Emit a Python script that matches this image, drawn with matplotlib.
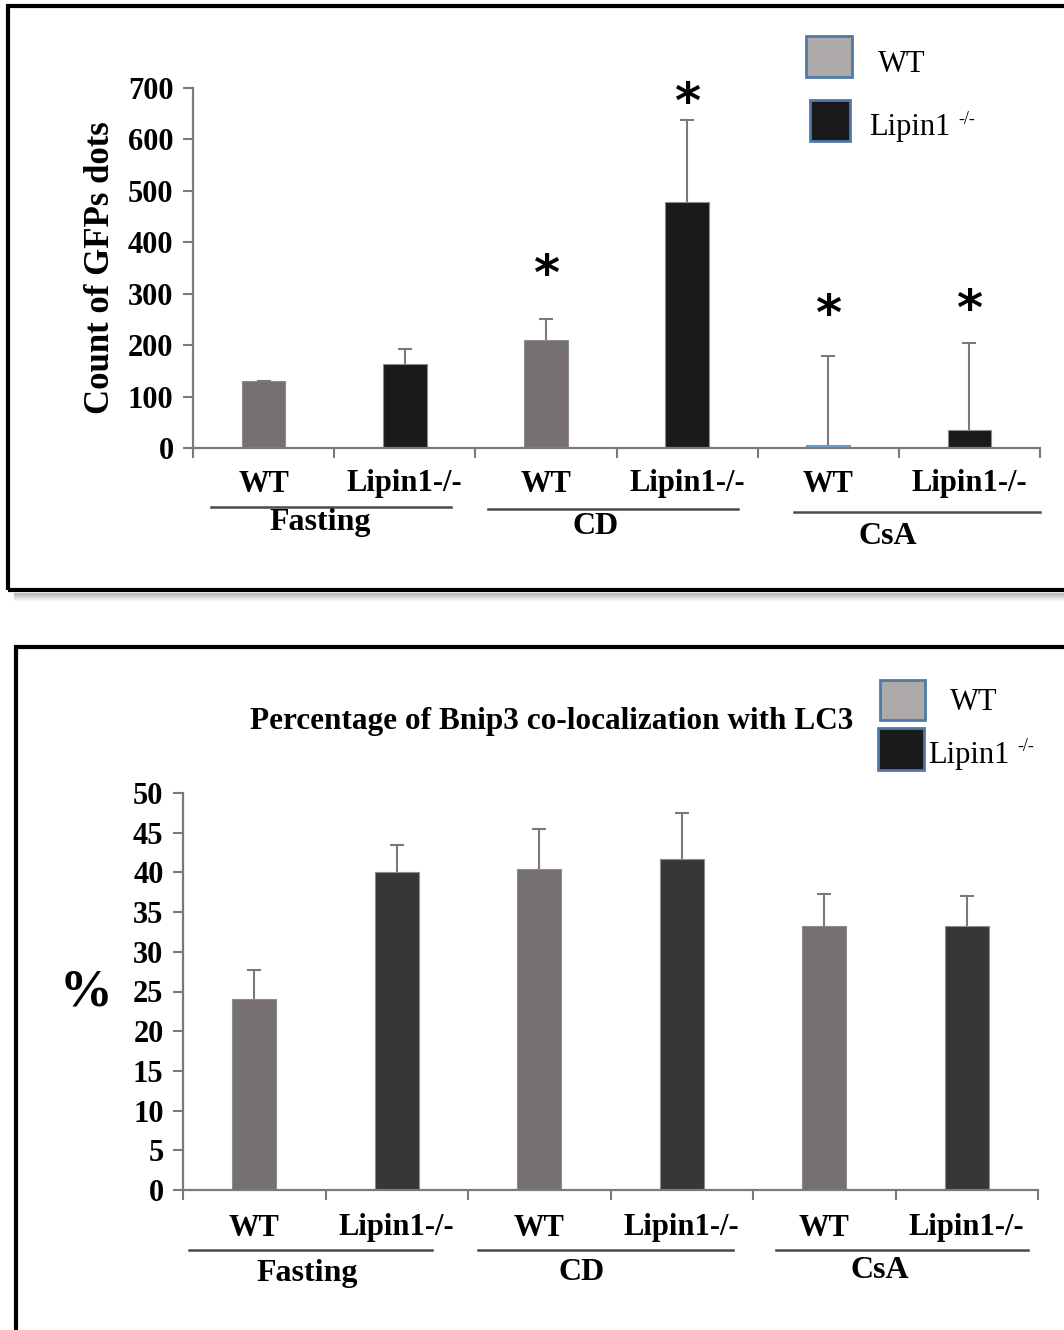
import matplotlib.pyplot as plt
import numpy as np
from matplotlib.patches import Rectangle
from matplotlib.lines import Line2D
from matplotlib.transforms import blended_transform_factory

# data
groups = ["Fasting", "CD", "CsA"]
genotypes = ["WT", "Lipin1-/-"] * 3

gfp_mean = [130, 163, 210, 478, 5, 35]
gfp_err = [0, 29, 40, 160, 173, 170]
gfp_star = [None, None, 335, 668, 257, 267]

bnip_mean = [24.0, 40.0, 40.4, 41.7, 33.3, 33.3]
bnip_err = [3.7, 3.4, 5.1, 5.8, 4.0, 3.7]

W, H = 1064, 1330
def fx(x):
    return x / W
def fy(y):
    return 1 - y / H

SERIF = "Liberation Serif"
AX_COL = "#7a7a7a"

fig = plt.figure(figsize=(W / 100, H / 100), dpi=100)


def panel(rect, means, errs, colors, ymax, ystep, tick_fs, lab_y, line_spans, line_y, grp_x, grp_y):
    ax = fig.add_axes(rect)
    x = np.arange(len(means)) + 0.5
    ax.bar(x, means, width=0.31, color=colors, edgecolor="#8c8c8c", linewidth=0.8, zorder=2)
    _, caps, _ = ax.errorbar(x, means, yerr=[np.zeros(len(errs)), errs], fmt="none",
                             ecolor=AX_COL, elinewidth=1.5, capsize=5, capthick=1.5, zorder=3)
    caps[0].set_visible(False)
    ax.set_xlim(0, len(means))
    ax.set_ylim(0, ymax)
    ax.set_yticks(np.arange(0, ymax + 1, ystep))
    ax.set_xticks(np.arange(0, len(means) + 1))
    ax.set_xticklabels([])
    for s in ["top", "right"]:
        ax.spines[s].set_visible(False)
    for s in ["left", "bottom"]:
        ax.spines[s].set_color(AX_COL)
        ax.spines[s].set_linewidth(1.6)
    ax.tick_params(axis="both", colors=AX_COL, width=1.5, length=7, direction="out")
    ax.tick_params(axis="y", labelcolor="black", pad=7)
    for t in ax.get_yticklabels():
        t.set_fontfamily(SERIF)
        t.set_fontweight("bold")
        t.set_fontsize(tick_fs)
    for xi, g in zip(x, genotypes):
        ax.annotate(g, xy=(xi, fy(lab_y)), xycoords=("data", "figure fraction"),
                    ha="center", va="center", fontsize=22, fontweight="bold",
                    family=SERIF, annotation_clip=False)
    tr = blended_transform_factory(ax.transData, fig.transFigure)
    for (a, b), ly in zip(line_spans, line_y):
        ax.add_artist(Line2D([a, b], [fy(ly), fy(ly)], color="#4a4a4a", lw=1.8,
                             transform=tr, clip_on=False))
    for g, gx, gy in zip(groups, grp_x, grp_y):
        ax.annotate(g, xy=(gx, fy(gy)), xycoords=("data", "figure fraction"),
                    ha="center", va="center", fontsize=23, fontweight="bold",
                    family=SERIF, annotation_clip=False)
    return ax, x


# ---- top panel ----
top_colors = ["#767170", "#1a1a1a", "#767170", "#1a1a1a", "#6fa8dc", "#1a1a1a"]
ax1, x1 = panel([fx(193), fy(448), (1040 - 193) / W, (448 - 88) / H],
                gfp_mean, gfp_err, top_colors, 700, 100, 22, 484,
                [(0.13, 1.83), (2.09, 3.86), (4.26, 6.0)], [507, 509, 512],
                [0.9, 2.85, 4.92], [522, 527, 536])
for xi, s in zip(x1, gfp_star):
    if s is not None:
        ax1.text(xi, s, "*", ha="center", va="center", fontsize=36,
                 fontweight="bold", family="DejaVu Sans", clip_on=False)
ax1.set_ylabel("Count of GFPs dots", fontsize=25, fontweight="bold", family=SERIF, labelpad=8)

# ---- bottom panel ----
bot_colors = ["#767170", "#393735"] * 3
ax2, x2 = panel([fx(183), fy(1190), (1038 - 183) / W, (1190 - 793) / H],
                bnip_mean, bnip_err, bot_colors, 50, 5, 22, 1228,
                [(0.04, 1.75), (2.07, 3.86), (4.16, 5.93)], [1250, 1250, 1250],
                [0.87, 2.8, 4.89], [1273, 1273, 1271])
fig.text(fx(86), fy(992), "%", ha="center", va="center", fontsize=38,
         fontweight="bold", family=SERIF)
fig.text(fx(552), fy(722), "Percentage of Bnip3 co-localization with LC3",
         ha="center", va="center", fontsize=22.5, fontweight="bold", family=SERIF)

# ---- legends ----
EDGE = "#4f7aa8"
def legend_box(x0, y0, x1_, y1_, color):
    fig.add_artist(Rectangle((fx(x0), fy(y1_)), (x1_ - x0) / W, (y1_ - y0) / H,
                             facecolor=color, edgecolor=EDGE, lw=2, transform=fig.transFigure))

legend_box(806, 36, 852, 77, "#aeaaaa")
legend_box(810, 100, 850, 141, "#1a1a1a")
fig.text(fx(878), fy(64), "WT", ha="left", va="center", fontsize=22, family=SERIF)
fig.text(fx(869), fy(127), "Lipin1", ha="left", va="center", fontsize=22, family=SERIF)
fig.text(fx(958), fy(119), "-/-", ha="left", va="center", fontsize=13, family=SERIF)

legend_box(880, 680, 925, 720, "#aeaaaa")
legend_box(878, 728, 924, 770, "#1a1a1a")
fig.text(fx(950), fy(703), "WT", ha="left", va="center", fontsize=22, family=SERIF)
fig.text(fx(928), fy(755), "Lipin1", ha="left", va="center", fontsize=22, family=SERIF)
fig.text(fx(1017), fy(746), "-/-", ha="left", va="center", fontsize=13, family=SERIF)

# ---- frames ----
for k in range(8):
    fig.add_artist(Line2D([fx(14), fx(1064)], [fy(593 + k), fy(593 + k)],
                          color="black", alpha=0.25 * (1 - k / 8), lw=0.8,
                          transform=fig.transFigure))
fig.add_artist(Rectangle((fx(8), fy(590)), (1080 - 8) / W, (590 - 6) / H, fill=False,
                         edgecolor="black", lw=3, transform=fig.transFigure, clip_on=False))
fig.add_artist(Rectangle((fx(16), fy(1345)), (1080 - 16) / W, (1345 - 647) / H, fill=False,
                         edgecolor="black", lw=3, transform=fig.transFigure, clip_on=False))

fig.savefig("out.png", dpi=100)
